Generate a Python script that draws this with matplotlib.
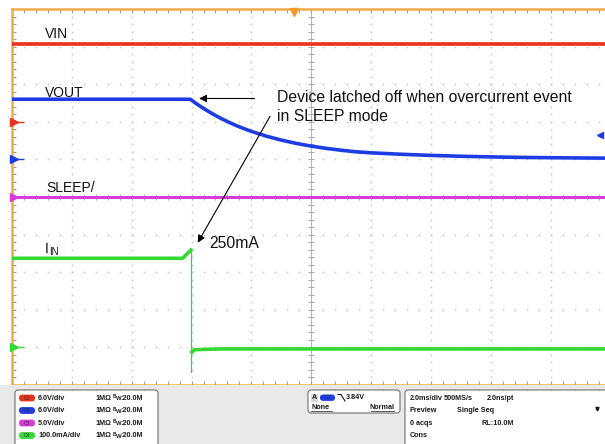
import numpy as np
import matplotlib
matplotlib.use('Agg')
import matplotlib.pyplot as plt
from matplotlib.patches import FancyBboxPatch, Rectangle

plt.rcParams['font.family'] = ['Liberation Sans', 'DejaVu Sans']

# ---------------- data (scope capture, 2 ms/div, t=0 at screen centre) ----------------
ch_names = ['C1', 'C2', 'C3', 'C4']
ch_scale = [6.0, 6.0, 5.0, 100.0]          # units per division
ch_offset = [2.0, 1.0, 0.0, -4.0]          # ground marker position (divisions)
ch_scale_labels = ['6.0V/div', '6.0V/div', '5.0V/div', '100.0mA/div']
ch_colors = ['#e8321c', '#1c3ce4', '#d83cd8', '#34d834']

vin_t = [-10, 10]
vin_v = [12.4, 12.4]

vout_t = [-10, -4.04, -3.9, -3.75, -3.5, -3.25, -3.0, -2.75, -2.5, -2.25, -2.0, -1.5, -1.0,
          -0.5, 0, 0.5, 1, 1.5, 2, 3, 4, 5, 6, 7, 8, 9, 10]
vout_v = [9.6, 9.6, 9.1, 8.6, 7.84, 7.14, 6.5, 5.92, 5.39, 4.91, 4.47, 3.71, 3.08,
          2.55, 2.12, 1.76, 1.46, 1.21, 1.05, 0.82, 0.64, 0.5, 0.4, 0.32, 0.27, 0.23, 0.2]

sleep_t = [-10, 10]
sleep_v = [0.0, 0.0]

iin_t = [-10, -4.30, -4.02, -4.02, -3.98, -3.9, -3.0, 10]
iin_ma = [237, 237, 259, -65, -12, -6, -4, -4]

trig_level = 3.84      # V on C2
trig_pos = -0.56       # ms (trigger marker on top edge)

# ---------------- figure ----------------
W, H = 605, 444
fig = plt.figure(figsize=(W / 100, H / 100), dpi=100)
fig.patch.set_facecolor('white')

ax = fig.add_axes([12 / W, 59 / H, 598.5 / W, 376 / H])
ax.set_xlim(-10, 10)
ax.set_ylim(-5, 5)
ax.set_facecolor('white')

orange = '#f2aa48'
for s in ['top', 'bottom', 'left']:
    ax.spines[s].set_color(orange)
    ax.spines[s].set_linewidth(1.8)
ax.spines['right'].set_visible(False)

ax.set_xticks(np.arange(-10, 11, 2))
ax.set_xticks(np.arange(-10, 10.01, 0.4), minor=True)
ax.set_yticks(np.arange(-5, 6, 1))
ax.set_yticks(np.arange(-5, 5.01, 0.2), minor=True)
ax.tick_params(which='both', direction='in', top=True, bottom=True, left=True, right=False,
               labelbottom=False, labelleft=False, color='#9a9a9a', width=0.7, length=3)

# dotted graticule
dot_c = '#c4c4c4'
dd = np.arange(-4.8, 4.81, 0.2)
tt = np.arange(-9.6, 9.61, 0.4)
for k in np.arange(-8, 9, 2):
    if k != 0:
        ax.plot(np.full(dd.size, k), dd, ls='none', marker='s', ms=1.1, mec='none', mfc=dot_c, zorder=1)
for j in range(-4, 5):
    if j != 0:
        ax.plot(tt, np.full(tt.size, j), ls='none', marker='s', ms=1.1, mec='none', mfc=dot_c, zorder=1)
# centre cross
ax.axvline(0, color='#a8a8a8', lw=0.6, zorder=1)
ax.axhline(0, color='#a8a8a8', lw=0.6, zorder=1)
ax.plot(np.zeros(dd.size), dd, ls='none', marker='_', ms=4, mew=0.7, color='#a8a8a8', zorder=1)
ax.plot(tt, np.zeros(tt.size), ls='none', marker='|', ms=4, mew=0.7, color='#a8a8a8', zorder=1)


def to_div(vals, ch):
    return ch_offset[ch] + np.asarray(vals, dtype=float) / ch_scale[ch]


lw = 2.6
ax.plot(vin_t, to_div(vin_v, 0), color=ch_colors[0], lw=lw, zorder=3)
ax.plot(vout_t, to_div(vout_v, 1), color=ch_colors[1], lw=lw, zorder=3, solid_joinstyle='round')
ax.plot(sleep_t, to_div(sleep_v, 2), color=ch_colors[2], lw=2.2, zorder=3)
iy = to_div(iin_ma, 3)
ax.plot(iin_t[:3], iy[:3], color=ch_colors[3], lw=lw, zorder=3)
ax.plot(iin_t[2:4], iy[2:4], color=ch_colors[3], lw=0.9, zorder=3)
ax.plot(iin_t[4:], iy[4:], color=ch_colors[3], lw=lw, zorder=3)

# channel ground markers on the left edge
for i in range(4):
    ax.plot([-9.93], [ch_offset[i]], marker='>', ms=6, color=ch_colors[i], clip_on=False, zorder=5)
    ax.plot([-9.93, -9.62], [ch_offset[i]] * 2, color=ch_colors[i], lw=1.0, clip_on=False, zorder=5)
# trigger level marker (right) and trigger position marker (top)
ax.plot([9.66], [to_div([trig_level], 1)[0]], marker='<', ms=5, color=ch_colors[1], zorder=5)
ax.plot([trig_pos], [4.93], marker='v', ms=6, color='#f59a20', clip_on=False, zorder=5)

# trace labels
lab_fs = 10
ax.text(-8.9, 4.23, 'VIN', fontsize=lab_fs, color='#111', va='baseline')
ax.text(-8.9, 2.66, 'VOUT', fontsize=lab_fs, color='#111', va='baseline')
ax.text(-8.85, 0.14, 'SLEEP/', fontsize=lab_fs, color='#111', va='baseline')
ax.text(-8.9, -1.49, 'I', fontsize=lab_fs, color='#111', va='baseline')
ax.text(-8.75, -1.54, 'IN', fontsize=7, color='#111', va='baseline')

ann_fs = 11.3
ax.text(-1.13, 2.53, 'Device latched off when overcurrent event', fontsize=ann_fs,
        color='#111', va='baseline')
ax.text(-1.13, 2.03, 'in SLEEP mode', fontsize=ann_fs, color='#111', va='baseline')
ax.text(-3.40, -1.36, '250mA', fontsize=ann_fs, color='#111', va='baseline')
ax.annotate('', xy=(-3.84, 2.62), xytext=(-1.80, 2.62),
            arrowprops=dict(arrowstyle='-|>', color='black', lw=0.8, mutation_scale=11))
ax.annotate('', xy=(-3.84, -1.28), xytext=(-1.33, 2.21),
            arrowprops=dict(arrowstyle='-|>', color='black', lw=0.8, mutation_scale=11))

# ---------------- status panel ----------------
pan = fig.add_axes([0, 0, 1, 59 / H])
pan.set_xlim(0, W)
pan.set_ylim(H, 385)
pan.axis('off')
pan.add_patch(Rectangle((0, 385), W, 59, facecolor='#e9e9e9', edgecolor='none'))

def box(x0, y0, x1, y1):
    pan.add_patch(FancyBboxPatch((x0, y0), x1 - x0, y1 - y0, boxstyle='round,pad=0,rounding_size=3',
                                 facecolor='white', edgecolor='#707070', lw=0.8))

box(15, 390, 158, 447)
box(308, 390, 400, 413)
box(405, 390, 612, 447)

pfs = 5.2
tc = '#1a1a1a'
rows = [398, 410.5, 423, 435.5]
for i in range(4):
    y = rows[i]
    pan.add_patch(FancyBboxPatch((19, y - 3.4), 16, 6.8, boxstyle='round,pad=0,rounding_size=3.4',
                                 facecolor=ch_colors[i], edgecolor='none'))
    pan.text(27, y, ch_names[i], fontsize=3.6, color='#333', ha='center', va='center')
    pan.text(38, y, ch_scale_labels[i], fontsize=pfs, color=tc, va='center', fontweight='bold')
    pan.text(95, y, '1MΩ', fontsize=pfs, color=tc, va='center', fontweight='bold')
    pan.text(112.5, y - 1.5, 'B', fontsize=3.4, color=tc, va='center', fontweight='bold')
    pan.text(115.5, y + 0.8, 'W', fontsize=4.2, color=tc, va='center', fontweight='bold')
    pan.text(120.5, y, ':20.0M', fontsize=pfs, color=tc, va='center', fontweight='bold')

# trigger box
pan.add_patch(Rectangle((311, 393.5), 7, 8, facecolor='#d8d8d8', edgecolor='none'))
pan.text(314.5, 397.5, 'A', fontsize=pfs, color=tc, ha='center', va='center', fontweight='bold')
pan.add_patch(FancyBboxPatch((320, 394.5), 15, 6.4, boxstyle='round,pad=0,rounding_size=3.2',
                             facecolor=ch_colors[1], edgecolor='none'))
pan.text(327.5, 397.7, 'C2', fontsize=3.6, color='#333', ha='center', va='center')
pan.plot([338, 341, 345], [394.5, 394.5, 401], color=tc, lw=0.8)
pan.text(346, 397.5, '3.84V', fontsize=pfs, color=tc, va='center', fontweight='bold')
pan.text(312, 407.5, 'None', fontsize=pfs, color=tc, va='center', fontweight='bold')
pan.text(394, 407.5, 'Normal', fontsize=pfs, color=tc, va='center', ha='right', fontweight='bold')
pan.plot([311, 332], [410.5, 410.5], color=tc, lw=0.5)
pan.plot([371, 394], [410.5, 410.5], color=tc, lw=0.5)

# acquisition box
pan.text(410, 398, '2.0ms/div', fontsize=pfs, color=tc, va='center', fontweight='bold')
pan.text(444, 398, '500MS/s', fontsize=pfs, color=tc, va='center', fontweight='bold')
pan.text(487, 398, '2.0ns/pt', fontsize=pfs, color=tc, va='center', fontweight='bold')
pan.text(410, 410.5, 'Preview', fontsize=pfs, color=tc, va='center', fontweight='bold')
pan.text(457, 410.5, 'Single Seq', fontsize=pfs, color=tc, va='center', fontweight='bold')
pan.annotate('', xy=(597.5, 415), xytext=(597.5, 405),
             arrowprops=dict(arrowstyle='-|>', color=tc, lw=1.2, mutation_scale=5))
pan.text(410, 423, '0 acqs', fontsize=pfs, color=tc, va='center', fontweight='bold')
pan.text(482, 423, 'RL:10.0M', fontsize=pfs, color=tc, va='center', fontweight='bold')
pan.text(410, 435.5, 'Cons', fontsize=pfs, color=tc, va='center', fontweight='bold')

fig.savefig('out.png', dpi=100)
